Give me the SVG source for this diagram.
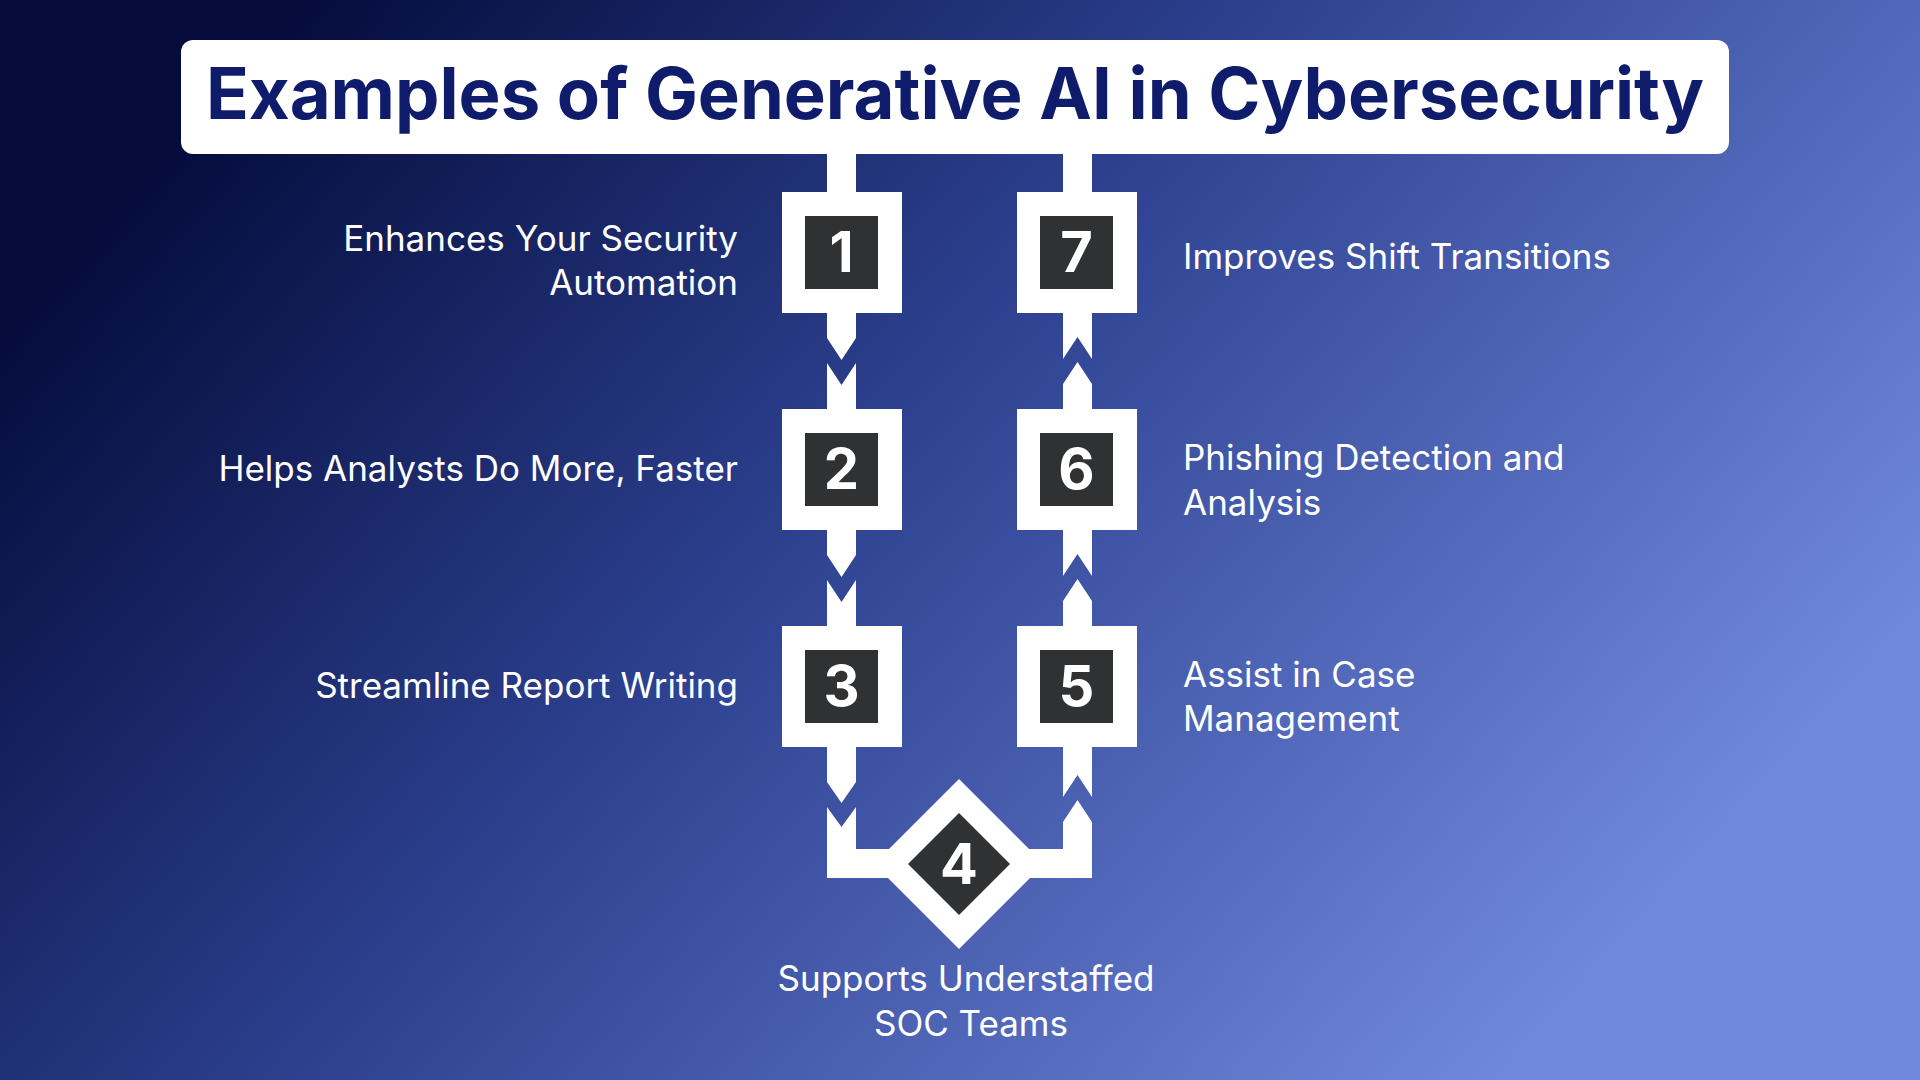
<svg xmlns="http://www.w3.org/2000/svg" width="1920" height="1080" viewBox="0 0 1920 1080">
<defs>
<linearGradient id="bg" x1="300" y1="0" x2="1500" y2="1080" gradientUnits="userSpaceOnUse">
<stop offset="0" stop-color="#050c3c"/>
<stop offset="0.45" stop-color="#2d4190"/>
<stop offset="1" stop-color="#7088dc"/>
</linearGradient>
<style>
.w{fill:#ffffff}
.d{fill:#2f3133}
.num{font-family:Inter,"Liberation Sans",sans-serif;font-weight:700;font-size:56px;fill:#ffffff;text-anchor:middle}
.lbl{font-family:Inter,"Liberation Sans",sans-serif;font-size:35px;fill:#ffffff}
</style>
</defs>
<rect width="1920" height="1080" fill="url(#bg)"/>
<g id="title">
<rect x="181" y="40" width="1548" height="114" rx="12" class="w"/>
<text x="955" y="119" text-anchor="middle" font-family="Inter,'Liberation Sans',sans-serif" font-weight="700" font-size="71" fill="#0f1c6b" textLength="1498" lengthAdjust="spacingAndGlyphs">Examples of Generative AI in Cybersecurity</text>
</g>
<g id="connectors" class="w">
<rect x="827" y="150" width="29" height="45"/>
<rect x="1063" y="150" width="29" height="45"/>
<polygon points="827,310 856,310 856,338 841.5,360 827,338"/>
<polygon points="827,363 841.5,385 856,363 856,412 827,412"/>
<polygon points="827,527 856,527 856,555 841.5,577 827,555"/>
<polygon points="827,580 841.5,602 856,580 856,629 827,629"/>
<polygon points="827,744 856,744 856,782 841.5,803 827,782"/>
<polygon points="827,807 841.5,827 856,807 856,849 959,849 959,878 827,878"/>
<polygon points="1063,412 1092,412 1092,384 1077.5,362 1063,384"/>
<polygon points="1063,359 1077.5,337 1092,359 1092,310 1063,310"/>
<polygon points="1063,629 1092,629 1092,601 1077.5,579 1063,601"/>
<polygon points="1063,576 1077.5,554 1092,576 1092,527 1063,527"/>
<polygon points="1063,849 1063,822 1077.5,800 1092,822 1092,878 959,878 959,849"/>
<polygon points="1063,797 1077.5,775 1092,797 1092,744 1063,744"/>
</g>
<g id="node1"><rect x="782" y="192" width="120" height="121" class="w"/><rect x="805" y="216" width="73" height="73" class="d"/><text x="841.5" y="272" class="num">1</text>
<text x="738" y="251" class="lbl" text-anchor="end">Enhances Your Security</text><text x="738" y="295" class="lbl" text-anchor="end">Automation</text></g>
<g id="node2"><rect x="782" y="409" width="120" height="121" class="w"/><rect x="805" y="433" width="73" height="73" class="d"/><text x="841.5" y="489" class="num">2</text>
<text x="738" y="481" class="lbl" text-anchor="end">Helps Analysts Do More, Faster</text></g>
<g id="node3"><rect x="782" y="626" width="120" height="121" class="w"/><rect x="805" y="650" width="73" height="73" class="d"/><text x="841.5" y="706" class="num">3</text>
<text x="738" y="698" class="lbl" text-anchor="end">Streamline Report Writing</text></g>
<g id="node4"><polygon points="959,779 1044,864 959,949 874,864" class="w"/><polygon points="959,813 1010,864 959,915 908,864" class="d"/><text x="959" y="884" class="num">4</text>
<text x="966" y="991" class="lbl" text-anchor="middle">Supports Understaffed</text><text x="971" y="1036" class="lbl" text-anchor="middle">SOC Teams</text></g>
<g id="node5"><rect x="1017" y="626" width="120" height="121" class="w"/><rect x="1040" y="650" width="73" height="73" class="d"/><text x="1076.5" y="706" class="num">5</text>
<text x="1183" y="687" class="lbl">Assist in Case</text><text x="1183" y="731" class="lbl">Management</text></g>
<g id="node6"><rect x="1017" y="409" width="120" height="121" class="w"/><rect x="1040" y="433" width="73" height="73" class="d"/><text x="1076.5" y="489" class="num">6</text>
<text x="1183" y="470" class="lbl">Phishing Detection and</text><text x="1183" y="515" class="lbl">Analysis</text></g>
<g id="node7"><rect x="1017" y="192" width="120" height="121" class="w"/><rect x="1040" y="216" width="73" height="73" class="d"/><text x="1076.5" y="272" class="num">7</text>
<text x="1183" y="269" class="lbl">Improves Shift Transitions</text></g>
</svg>
